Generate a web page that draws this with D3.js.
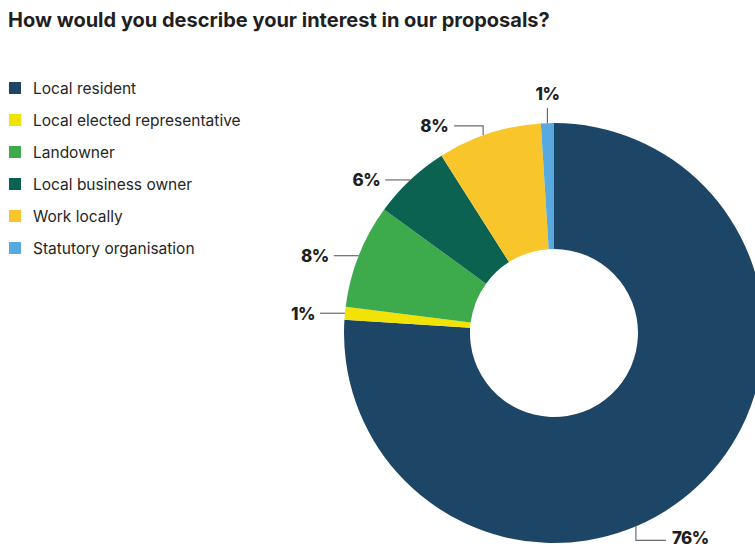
<!DOCTYPE html>
<html>
<head>
<meta charset="utf-8">
<script src="https://cdn.jsdelivr.net/npm/d3@7"></script>
<style>
  html, body { margin: 0; padding: 0; background: #fff; }
  svg { display: block; }
</style>
</head>
<body>
<svg id="chart" width="755" height="547"></svg>
<script>
// Survey answers: share of respondents by interest type
const categories = [
  "Local resident",
  "Local elected representative",
  "Landowner",
  "Local business owner",
  "Work locally",
  "Statutory organisation"
];
const values = [76, 1, 8, 6, 8, 1];
const colors = ["#1c4566", "#f2e205", "#3dab4b", "#0c6250", "#f8c52b", "#58a9df"];
const title = "How would you describe your interest in our proposals?";

const W = 755, H = 547;
const svg = d3.select("#chart");
const textColor = "#1f1f1f";
const font = "Inter, Lato, 'Noto Sans', sans-serif";

// Title
svg.append("text")
  .attr("x", 8).attr("y", 27)
  .attr("font-family", font)
  .attr("font-weight", 700)
  .attr("font-size", 20)
  .attr("fill", textColor)
  .text(title);

// Legend
const legend = svg.append("g").attr("transform", "translate(9,82)");
const rows = legend.selectAll("g").data(categories).join("g")
  .attr("transform", (d, i) => `translate(0,${i * 32})`);
rows.append("rect")
  .attr("width", 12).attr("height", 12)
  .attr("fill", (d, i) => colors[i]);
rows.append("text")
  .attr("x", 24).attr("y", 11.5)
  .attr("font-family", font)
  .attr("font-size", 15.5)
  .attr("fill", "#262626")
  .text(d => d);

// Donut
const cx = 554, cy = 333, rOuter = 210, rInner = 84;
const pie = d3.pie().sort(null).value(d => d.value);
const slices = pie(categories.map((c, i) => ({ name: c, value: values[i], color: colors[i] })));
const arc = d3.arc().innerRadius(rInner).outerRadius(rOuter);

const g = svg.append("g").attr("transform", `translate(${cx},${cy})`);
g.selectAll("path").data(slices).join("path")
  .attr("d", arc)
  .attr("fill", d => d.data.color);

// Leader lines and percentage labels
// point on the outer rim at a given angle (radians, clockwise from 12 o'clock)
const rim = a => [rOuter * Math.sin(a), -rOuter * Math.cos(a)];
const lineColor = "#6b6b6b";

function addLabel(d, i) {
  const mid = (d.startAngle + d.endAngle) / 2;
  let anchor = mid, pts, tx, ty, ta;
  if (i === 0) {
    // the large slice: label sits below right of the bottom
    anchor = d.endAngle * 0.574;
    const [x, y] = rim(anchor);
    pts = [[x, y], [x, y + 14], [x + 30, y + 14]];
    tx = x + 36; ty = y + 18; ta = "start";
  } else if (i === categories.length - 1) {
    const [x, y] = rim(mid);
    pts = [[x, y], [x, y - 15]];
    tx = x; ty = y - 23; ta = "middle";
  } else if (i === 4) {
    anchor = mid - 0.03;
    const [x, y] = rim(anchor);
    pts = [[x, y], [x, y - 9.5], [x - 29, y - 9.5]];
    tx = x - 35; ty = y - 3.5; ta = "end";
  } else {
    const [x, y] = rim(mid);
    pts = [[x, y], [x - 25, y]];
    tx = x - 30; ty = y + 6.5; ta = "end";
  }
  g.append("path")
    .attr("d", d3.line()(pts))
    .attr("fill", "none")
    .attr("stroke", lineColor)
    .attr("stroke-width", 1.2);
  g.append("text")
    .attr("x", tx).attr("y", ty)
    .attr("text-anchor", ta)
    .attr("font-family", font)
    .attr("font-weight", 800)
    .attr("font-size", 17)
    .attr("letter-spacing", -0.5)
    .attr("fill", textColor)
    .text(d.data.value + "%");
}
slices.forEach(addLabel);
</script>
</body>
</html>
